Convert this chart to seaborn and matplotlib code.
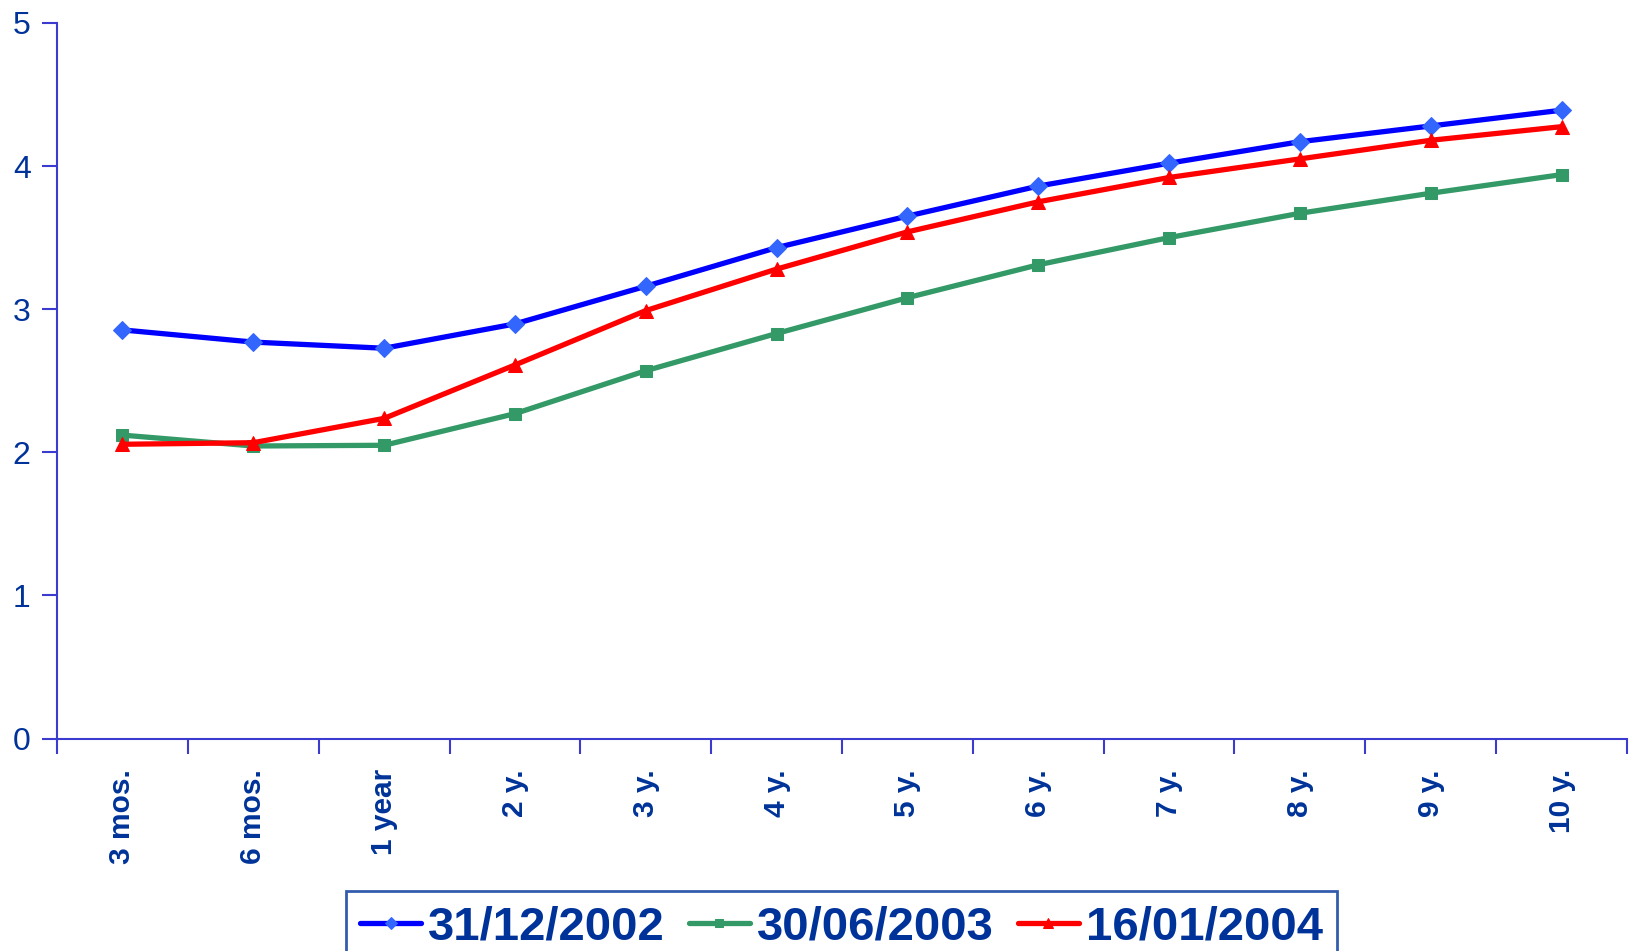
import matplotlib
matplotlib.use('Agg')
import matplotlib.pyplot as plt
import seaborn as sns
import pandas as pd
from matplotlib.ticker import FixedLocator

terms = ['3 mos.', '6 mos.', '1 year', '2 y.', '3 y.', '4 y.', '5 y.',
         '6 y.', '7 y.', '8 y.', '9 y.', '10 y.']
dates = ['31/12/2002', '30/06/2003', '16/01/2004']
rates_dec02 = [2.855, 2.77, 2.727, 2.897, 3.16, 3.43, 3.65, 3.86, 4.02, 4.17, 4.28, 4.39]
rates_jun03 = [2.12, 2.044, 2.049, 2.27, 2.57, 2.83, 3.08, 3.31, 3.50, 3.67, 3.81, 3.94]
rates_jan04 = [2.056, 2.067, 2.237, 2.61, 2.99, 3.28, 3.54, 3.75, 3.92, 4.05, 4.18, 4.275]

sns.set_theme(style="white")
plt.rcParams['font.family'] = ['Liberation Sans', 'DejaVu Sans']

axis_col = '#3b3bd0'
text_col = '#003399'

fig = plt.figure(figsize=(16.31, 9.51), dpi=100)
ax = fig.add_axes([0.035, 0.2234, 0.9625, 0.7525])

styles = [
    (rates_dec02, '#0000ff', 'D', '#3366ff', 9),
    (rates_jun03, '#339966', 's', '#339966', 8),
    (rates_jan04, '#ff0000', '^', '#ff0000', 10),
]
for (vals, col, mk, mcol, ms), lab in zip(styles, dates):
    sns.lineplot(x=terms, y=vals, ax=ax, color=col, linewidth=3.8, marker=mk,
                 markersize=ms, markerfacecolor=mcol, markeredgecolor=mcol,
                 label=lab, sort=False)

ax.set_xlim(-0.5, len(terms) - 0.5)
ax.set_ylim(0, 5)
ax.set_yticks(range(6))
ax.set_yticklabels([str(v) for v in range(6)], fontsize=23, color=text_col)
ax.set_xticks(range(len(terms)))
ax.set_xticklabels(terms, rotation=90, fontweight='bold', fontsize=21.5, color=text_col)
ax.xaxis.set_minor_locator(FixedLocator([i - 0.5 for i in range(len(terms) + 1)]))
ax.tick_params(axis='x', which='major', length=0, pad=22)
ax.tick_params(axis='x', which='minor', length=11, width=1.5, color=axis_col, direction='out', bottom=True)
ax.tick_params(axis='y', length=11, width=1.5, color=axis_col, direction='out', left=True, pad=8)

for side in ['top', 'right']:
    ax.spines[side].set_visible(False)
for side in ['left', 'bottom']:
    ax.spines[side].set_color(axis_col)
    ax.spines[side].set_linewidth(1.5)
ax.set_xlabel('')
ax.set_ylabel('')

leg = ax.legend(loc='upper center', bbox_to_anchor=(0.516, 0.063), bbox_transform=fig.transFigure,
                ncol=3, frameon=True, fancybox=False, borderaxespad=0,
                prop={'weight': 'bold', 'size': 34}, handlelength=1.3, handletextpad=0.15,
                columnspacing=0.5, borderpad=0.3, markerscale=0.7)
leg.get_frame().set_edgecolor(text_col)
leg.get_frame().set_linewidth(2)
for t in leg.get_texts():
    t.set_color(text_col)

plt.savefig('out.png', dpi=100)
